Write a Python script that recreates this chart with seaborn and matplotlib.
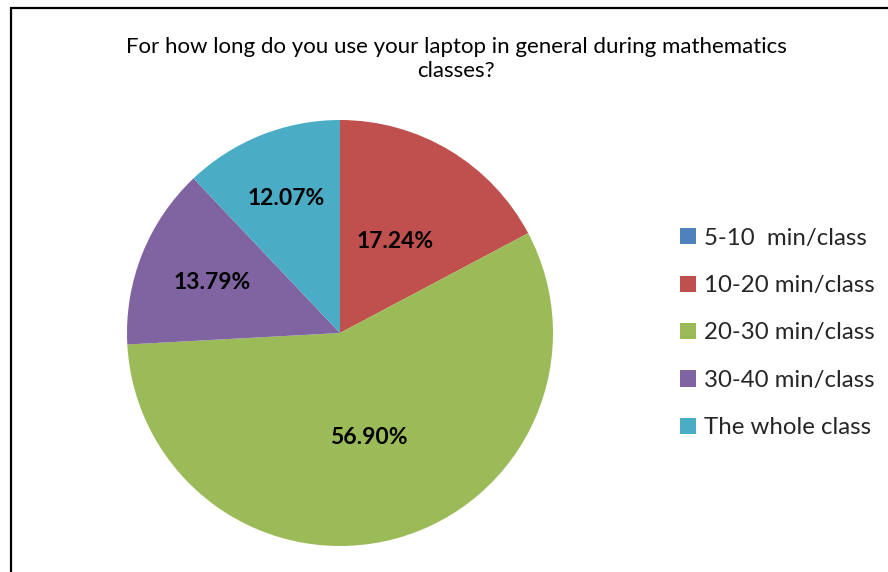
import matplotlib
matplotlib.use("Agg")
import matplotlib.pyplot as plt
import matplotlib.patches as mpatches
from matplotlib.lines import Line2D
import seaborn as sns
import numpy as np

categories = ["5-10  min/class", "10-20 min/class", "20-30 min/class", "30-40 min/class", "The whole class"]
values = [0.0, 17.24, 56.90, 13.79, 12.07]
colors = ["#4F81BD", "#C0504D", "#9BBB59", "#8064A2", "#4BACC6"]
title = "For how long do you use your laptop in general during mathematics\nclasses?"

sns.set_theme(style="white")
plt.rcParams["font.family"] = ["Lato", "DejaVu Sans"]

W, H = 888, 572
fig = plt.figure(figsize=(W / 100, H / 100), dpi=100)
fig.patch.set_facecolor("white")

# outer chart frame (left and top edges visible)
fx, fy = 10.5 / W, 1 - 7.5 / H
fig.add_artist(Line2D([fx, fx], [-0.05, fy], transform=fig.transFigure, color="black", linewidth=1.6))
fig.add_artist(Line2D([fx, 1.05], [fy, fy], transform=fig.transFigure, color="black", linewidth=1.6))

cx, cy, r = 340, 333, 213
ax = fig.add_axes([(cx - r) / W, (H - cy - r) / H, 2 * r / W, 2 * r / H])

wedges, texts, autotexts = ax.pie(
    values, colors=colors, startangle=90, counterclock=False,
    autopct=lambda p: f"{p:.2f}%" if p > 0.01 else "",
    pctdistance=0.55, wedgeprops=dict(linewidth=0),
    textprops=dict(fontsize=16.5, fontweight="bold", color="black"))
label_dist = [0.55, 0.50, 0.51, 0.645, 0.68]
for t, d in zip(autotexts, label_dist):
    x, y = t.get_position()
    n = np.hypot(x, y)
    if n > 0:
        t.set_position((x / n * d, y / n * d))
ax.set_xlim(-1, 1)
ax.set_ylim(-1, 1)
ax.set_aspect("equal")
ax.axis("off")

fig.text(456 / W, 1 - 59 / H, title, ha="center", va="center", fontsize=16,
         linespacing=1.3, color="black")

handles = [mpatches.Patch(facecolor=c, edgecolor="none") for c in colors]
leg = fig.legend(handles, categories, loc="center left", bbox_to_anchor=(680 / W, 1 - 333 / H),
                 frameon=False, fontsize=17.3, handlelength=0.65, handleheight=0.65,
                 handletextpad=0.35, labelspacing=1.1, borderaxespad=0, borderpad=0)

fig.savefig("out.png", dpi=100)
